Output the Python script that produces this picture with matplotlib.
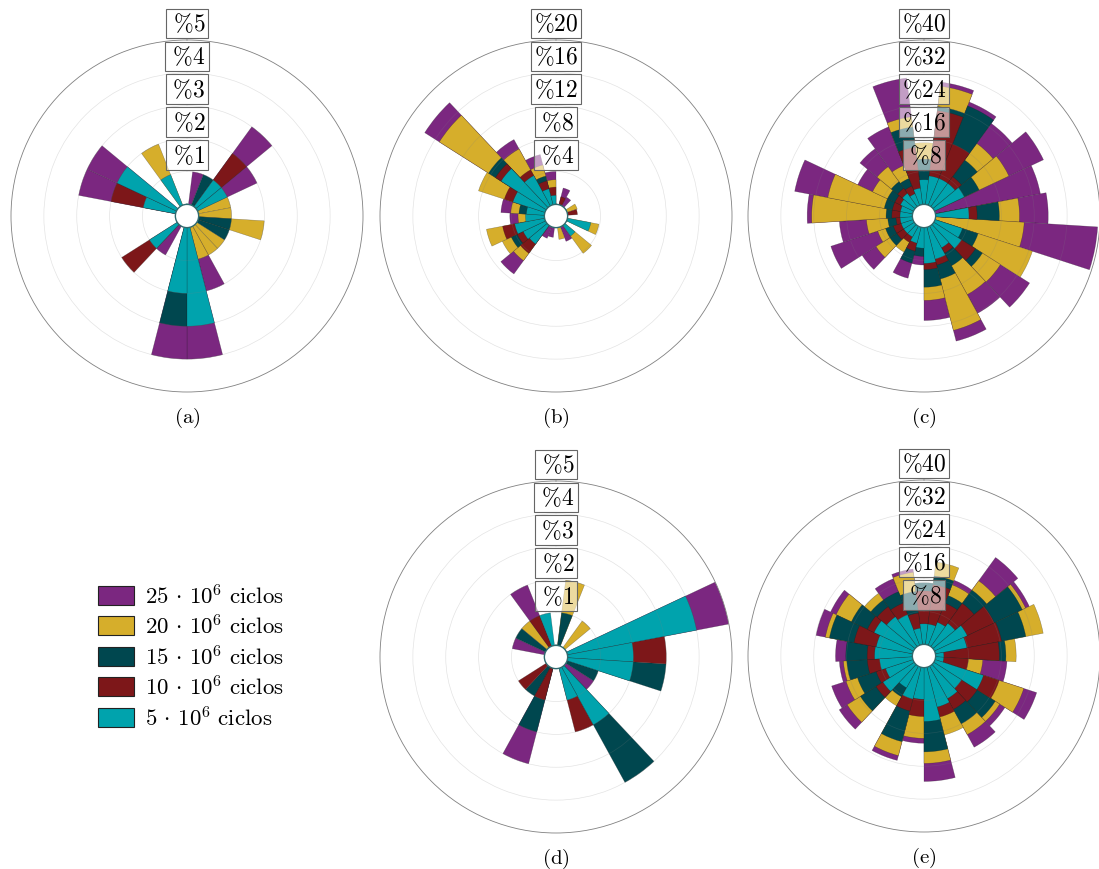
import numpy as np
import matplotlib.pyplot as plt
from matplotlib.patches import Patch

plt.rcParams['mathtext.fontset'] = 'cm'

# 25 direction bins, clockwise from north
NSECT = 25

series = [r'$5\,\cdot\,10^6\ \mathrm{ciclos}$', r'$10\,\cdot\,10^6\ \mathrm{ciclos}$',
          r'$15\,\cdot\,10^6\ \mathrm{ciclos}$', r'$20\,\cdot\,10^6\ \mathrm{ciclos}$',
          r'$25\,\cdot\,10^6\ \mathrm{ciclos}$']
colors = ['#00a3ad', '#7d1719', '#00474f', '#d6ae2b', '#7b2780']

# (a) frequency per sector [%]
a_5  = [0, 0, 0, 1, 1, 0, 0, 0, 0, 0, 0, 0, 3, 2, 0, 0, 1, 0, 0, 0, 1, 2, 0, 1, 0]
a_10 = [0, 0, 0, 2, 0, 0, 0, 0, 0, 0, 0, 0, 0, 0, 0, 0, 2, 0, 0, 0, 2, 0, 0, 0, 0]
a_15 = [0, 0, 1, 0, 0, 0, 0, 1, 1, 0, 0, 0, 0, 3, 0, 0, 0, 0, 0, 0, 0, 0, 0, 0, 0]
a_20 = [0, 0, 0, 0, 0, 1, 1, 2, 0, 1, 1, 1, 0, 0, 0, 0, 0, 0, 0, 0, 0, 0, 0, 2, 0]
a_25 = [0, 1, 0, 3, 2, 0, 0, 0, 0, 0, 0, 2, 4, 4, 0, 1, 0, 0, 0, 0, 3, 3, 0, 0, 0]

# (b)
b_5  = [0, 0, 0, 0, 0, 0, 0, 2.9, 0, 1.6, 0, 0, 0, 0, 0, 2.8, 3.0, 3.7, 2.3, 2.2, 4.1, 6.5, 4.2, 2.0, 1.1]
b_10 = [0, 1.0, 0, 0, 0, 1.2, 0, 0, 0, 0, 0, 0, 0, 0, 0, 4.2, 3.8, 5.2, 0, 0, 5.2, 7.3, 5.0, 3.0, 2.1]
b_15 = [0, 0, 0, 0, 0, 0, 0, 0, 0, 0, 0, 0, 0, 0, 0, 0, 4.6, 0, 0, 3.1, 0, 8.3, 0, 3.6, 0]
b_20 = [0, 0, 0, 0, 1.3, 0, 0, 3.9, 0, 4.2, 0, 1.45, 0, 0, 0, 5.3, 5.8, 7.2, 3.2, 4.1, 8.5, 15.4, 7.9, 5.0, 3.0]
b_25 = [0, 2.1, 1.2, 0, 0, 0, 0, 0, 0, 0, 1.9, 0, 0, 1.2, 1.5, 7.3, 0, 0, 4.2, 5.3, 0, 17.5, 9.2, 6.3, 4.0]

# (c)
c_5  = [6, 7, 7, 7, 8, 0, 8.1, 0, 7, 8, 6, 8, 8.7, 5, 4, 3, 3, 3, 3, 3, 3, 3.5, 4, 3, 4]
c_10 = [0, 23, 16, 9, 0, 0, 10.1, 0, 0, 12, 7.5, 9.5, 10.2, 0, 6, 4.5, 5, 5, 4, 5, 5, 5, 5.5, 5, 14]
c_15 = [11, 24, 26, 14, 12, 0, 15.5, 0, 11, 14, 11, 13, 14.5, 7, 9, 0, 7, 7, 6, 6.4, 7, 7, 7.5, 7, 19]
c_20 = [15, 29, 0, 19, 20, 0, 20.4, 21.6, 24.9, 19.2, 19, 25.9, 17.7, 0, 0, 7.2, 11, 9, 11.2, 24.5, 21, 11, 12, 10.4, 21.5]
c_25 = [0, 30, 27, 25, 29.3, 26, 27.4, 39.5, 0, 27.6, 24.2, 28.6, 22.6, 9.1, 12.8, 0, 15, 21, 17.8, 25.6, 29.2, 15, 17.4, 20.5, 31]

# (d)
d_5  = [0, 0, 0, 0, 0, 4, 2, 2, 0, 0, 2, 1, 0, 0, 0, 0, 0, 0, 0, 0, 0, 0, 0, 0, 1]
d_10 = [0, 0, 0, 0, 0, 0, 3, 0, 0, 0, 0, 2, 0, 0, 1, 0, 1, 0, 0, 0, 0, 0, 0, 1, 0]
d_15 = [0, 1, 0, 0, 0, 0, 0, 3, 1, 0, 4, 0, 0, 0, 2, 1, 0, 0, 0, 0, 0, 1, 0, 0, 0]
d_20 = [0, 2, 0, 1, 0, 0, 0, 0, 0, 0, 0, 0, 0, 0, 0, 0, 0, 0, 0, 0, 0, 0, 1, 0, 0]
d_25 = [0, 0, 0, 0, 0, 5, 0, 0, 0, 1, 0, 0, 0, 0, 3, 0, 0, 0, 0, 0, 1, 0, 0, 2, 0]

# (e)
e_5  = [5, 5, 6, 7, 8.8, 7.8, 2, 2, 12.4, 8, 9, 10, 13.1, 7.7, 8, 6, 9, 7, 8, 9.2, 9, 10.6, 9, 8, 4]
e_10 = [13, 14.6, 11, 13, 16.1, 16.4, 15.5, 8, 16.4, 12.5, 12, 12.5, 0, 11.9, 11, 0, 11, 9.4, 11, 11, 14.5, 12.4, 12, 11, 7.7]
e_15 = [15, 16.8, 13, 17, 23.6, 22.4, 17.1, 0, 0, 17.7, 16, 0, 20.5, 0, 18.7, 8.5, 15.5, 14.2, 16, 16.2, 20.6, 16.7, 14, 14, 13]
e_20 = [0, 20.2, 15.8, 19.8, 24.5, 26.7, 19.6, 11.5, 22.7, 19, 19, 17, 23.3, 17.2, 22.2, 11, 19.3, 17.1, 16.8, 0, 21.6, 20.8, 16, 0, 17.7]
e_25 = [0, 0, 17, 26.8, 25.5, 0, 0, 17.4, 26, 20.5, 22.5, 0, 27.7, 18.4, 23.4, 0, 21.6, 20.8, 17.8, 18.7, 23.9, 22.3, 0, 17.4, 18.5]

W, H = 1099, 870
R = 176


def rose(cx, cy, data, rmax, offset, tag):
    ax = plt.gcf().add_axes([(cx - R) / W, 1 - (cy + R) / H, 2 * R / W, 2 * R / H],
                            projection='polar')
    ax.set_theta_zero_location('N')
    ax.set_theta_direction(-1)
    step = 360.0 / NSECT
    theta = np.radians(offset + step * np.arange(NSECT))
    # largest series behind, smallest in front
    for i in range(4, -1, -1):
        v = np.array(data[i], dtype=float)
        m = v > 0
        ax.bar(theta[m], v[m], width=np.radians(step), bottom=0,
               color=colors[i], edgecolor=(0.1, 0.1, 0.1, 0.4), linewidth=0.35,
               zorder=1 + (4 - i) * 0.1)
    ax.set_ylim(0, rmax)
    ax.set_rorigin(-0.0708 * rmax)
    ticks = rmax / 5 * np.arange(1, 5)
    ax.set_yticks(ticks)
    ax.set_yticklabels([])
    ax.set_xticks([])
    ax.set_axisbelow(False)
    ax.yaxis.grid(True, color='0.5', alpha=0.22, linewidth=0.5)
    ax.spines['polar'].set_color('#808080')
    ax.spines['polar'].set_linewidth(0.6)
    ax.spines['inner'].set_color('#2f6a6e')
    ax.spines['inner'].set_linewidth(1.0)
    for t in list(ticks) + [rmax]:
        n = int(round(t))
        s = r'$\:\%' + str(n) + r'\:$' if n < 10 else r'$\%' + str(n) + '$'
        ax.text(0, t + rmax * 0.1, s, ha='center', va='center', fontsize=17, zorder=10,
                bbox=dict(boxstyle='square,pad=0.12', fc=(1, 1, 1, 0.55),
                          ec='#666666', lw=0.8))
    plt.gcf().text(cx / W, 1 - (cy + 201) / H, r'$\mathrm{(' + tag + ')}$',
                   ha='center', va='center', fontsize=15)
    return ax


fig = plt.figure(figsize=(W / 100, H / 100), dpi=100)

rose(187, 217, [a_5, a_10, a_15, a_20, a_25], 5, 0, 'a')
rose(556, 217, [b_5, b_10, b_15, b_20, b_25], 20, 7.2, 'b')
rose(924, 217, [c_5, c_10, c_15, c_20, c_25], 40, 0, 'c')
rose(556, 658, [d_5, d_10, d_15, d_20, d_25], 5, 0, 'd')
rose(924, 657, [e_5, e_10, e_15, e_20, e_25], 40, 0, 'e')

handles = [Patch(facecolor=colors[i], edgecolor='#222222', linewidth=0.8) for i in range(4, -1, -1)]
fig.legend(handles, series[::-1], loc='upper left', bbox_to_anchor=(98 / W, 1 - 585 / H),
           frameon=False, fontsize=16.5, handlelength=1.55, handleheight=0.92,
           handletextpad=0.5, labelspacing=0.27, borderpad=0, borderaxespad=0)

fig.savefig('out.png', dpi=100)
